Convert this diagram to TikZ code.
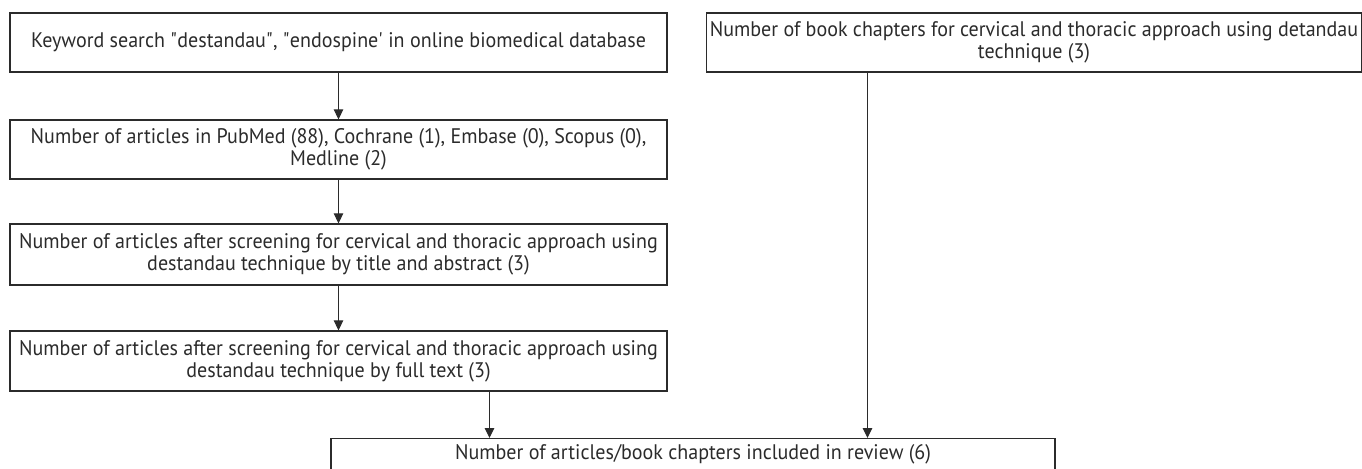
\documentclass[tikz,border=0pt]{standalone}
\usepackage{fontspec}
\setmainfont{PT Sans}[FakeStretch=0.95]
\usetikzlibrary{arrows.meta}
\definecolor{inkgray}{HTML}{2B2B2B}
\begin{document}
\begin{tikzpicture}[
    flowbox/.style={draw=inkgray, line width=0.7pt, text=inkgray, align=center,
      inner xsep=2pt, inner ysep=0pt, minimum height=1.18cm,
      font=\fontsize{12}{12.5}\selectfont},
    link/.style={draw=inkgray, line width=0.6pt, -{Triangle[length=0.2cm,width=0.19cm]}}
  ]
      \useasboundingbox (0,0) rectangle (27.24,-9.38);

      % left column
      \node[flowbox, minimum width=13.14cm] (kw) at (6.77,-0.85) {Keyword search \textquotedbl destandau\textquotedbl, \textquotedbl endospine\textquotesingle{} in online biomedical database};
      \node[flowbox, minimum width=13.14cm] (db) at (6.77,-2.99) {Number of articles in PubMed (88), Cochrane (1), Embase (0), Scopus (0),\\ Medline (2)};
      \node[flowbox, minimum width=13.14cm, minimum height=1.22cm] (ta) at (6.77,-5.09) {Number of articles after screening for cervical and thoracic approach using\\ destandau technique by title and abstract (3)};
      \node[flowbox, minimum width=13.14cm, minimum height=1.20cm] (ft) at (6.77,-7.22) {Number of articles after screening for cervical and thoracic approach using\\ destandau technique by full text (3)};

      % right column
      \node[flowbox, minimum width=12.84cm] (bk) at (20.68,-0.85) {Number of book chapters for cervical and thoracic approach using detandau\\ technique (3)};

      % result, runs off the bottom
      \node[flowbox, anchor=north, minimum width=14.48cm, minimum height=0pt, inner ysep=0.12cm, text depth=1cm] (inc) at (13.86,-8.76) {Number of articles/book chapters included in review (6)};

      \coordinate (ftout) at (9.79,-7.82);
      \coordinate (bkout) at (17.35,-1.44);

      \draw[link] (kw) -- (db);
      \draw[link] (db) -- (ta);
      \draw[link] (ta) -- (ft);
      \draw[link] (ftout) -- (ftout |- inc.north);
      \draw[link] (bkout) -- (bkout |- inc.north);
\end{tikzpicture}
\end{document}
